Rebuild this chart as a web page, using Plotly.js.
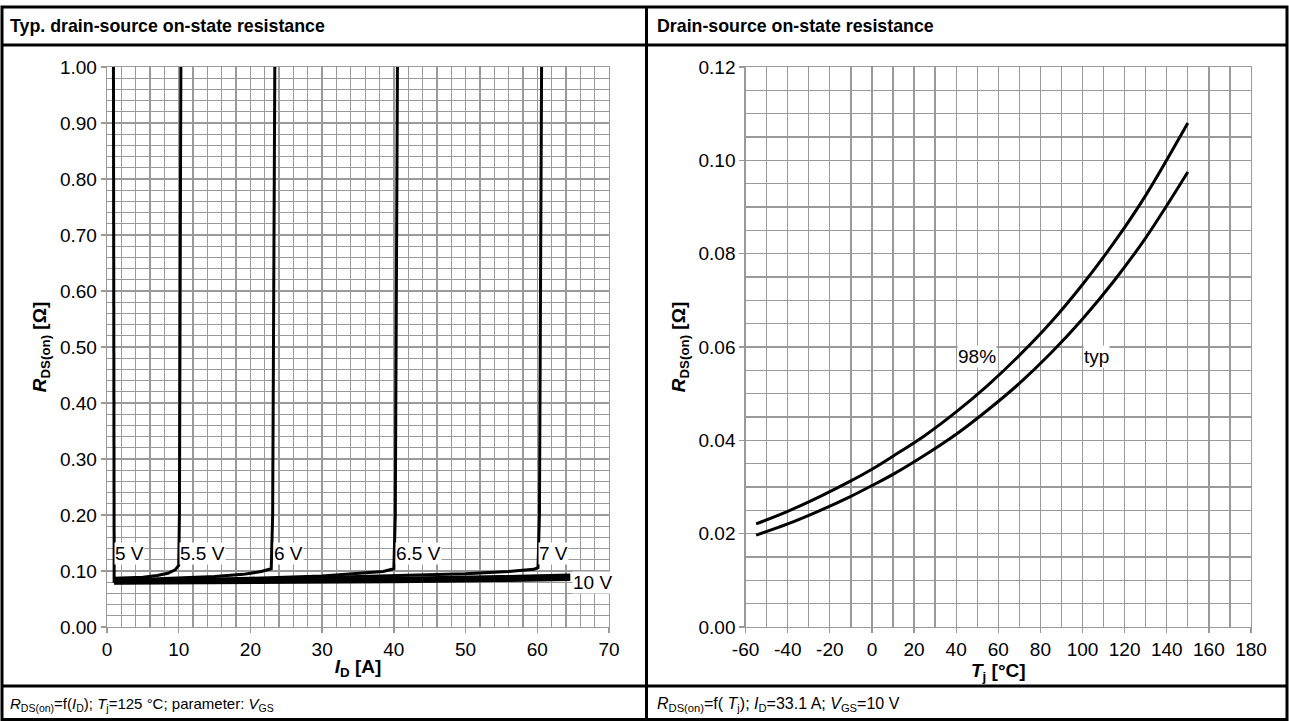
<!DOCTYPE html>
<html>
<head>
<meta charset="utf-8">
<script src="https://cdn.plot.ly/plotly-3.0.1.min.js"></script>
<style>html,body{margin:0;padding:0;background:#fff;}#chart{width:1289px;height:721px;}</style>
</head>
<body>
<div id="chart"></div>
<script>
// ---------- Left chart: RDS(on) = f(ID), parameter VGS ----------
const vgsNames = ['5 V', '5.5 V', '6 V', '6.5 V', '7 V', '8 V', '9 V', '10 V'];
const id_5V   = [1.0, 1.0, 1.0, 0.9];
const r_5V    = [0.079, 0.080, 0.15, 1.00];
const id_5V5  = [1.0, 3.0, 5.0, 7.0, 8.5, 9.5, 10.0, 10.1, 10.3];
const r_5V5   = [0.087, 0.088, 0.089, 0.092, 0.096, 0.102, 0.110, 0.20, 1.00];
const id_6V   = [1.0, 5.0, 10.0, 15.0, 19.0, 21.5, 22.9, 23.1, 23.4];
const r_6V    = [0.083, 0.085, 0.087, 0.090, 0.094, 0.099, 0.104, 0.20, 1.00];
const id_6V5  = [1.0, 10.0, 20.0, 30.0, 35.0, 38.5, 40.0, 40.2, 40.5];
const r_6V5   = [0.082, 0.084, 0.087, 0.091, 0.095, 0.099, 0.104, 0.20, 1.00];
const id_7V   = [1.0, 10.0, 20.0, 30.0, 40.0, 50.0, 56.0, 59.5, 60.1, 60.3, 60.6];
const r_7V    = [0.081, 0.082, 0.085, 0.088, 0.091, 0.095, 0.099, 0.103, 0.106, 0.20, 1.00];
const id_8V   = [1.0, 20.0, 40.0, 55.0, 64.6];
const r_8V    = [0.080, 0.083, 0.087, 0.090, 0.093];
const id_9V   = [1.0, 20.0, 40.0, 55.0, 64.6];
const r_9V    = [0.079, 0.081, 0.084, 0.087, 0.089];
const id_10V  = [1.0, 20.0, 40.0, 55.0, 64.6];
const r_10V   = [0.078, 0.079, 0.081, 0.083, 0.085];

// label anchor points (left edge of label) for the VGS curves
const vgsLabelText = ['5 V', '5.5 V', '6 V', '6.5 V', '7 V', '10 V'];
const vgsLabelId   = [1.0, 10.1, 23.2, 40.2, 60.1, 64.8];
const vgsLabelR    = [0.132, 0.132, 0.132, 0.132, 0.132, 0.080];

// ---------- Right chart: RDS(on) = f(Tj) ----------
const tj       = [-55, -40, -25, -10, 0, 10, 25, 40, 55, 70, 85, 100, 115, 130, 150];
const r_typ    = [0.0197, 0.0221, 0.0249, 0.0280, 0.0303, 0.0327, 0.0368, 0.0413, 0.0465, 0.0522, 0.0587, 0.0660, 0.0742, 0.0834, 0.0975];
const r_98     = [0.0221, 0.0248, 0.0279, 0.0313, 0.0338, 0.0366, 0.0410, 0.0461, 0.0518, 0.0582, 0.0653, 0.0734, 0.0824, 0.0925, 0.1080];
const tjLabelText = ['98%', 'typ'];
const tjLabelT    = [40.2, 100.3];
const tjLabelR    = [0.0579, 0.0579];

const tjTickVals = [-60, -40, -20, 0, 20, 40, 60, 80, 100, 120, 140, 160, 180];
const tjTickText = ['-60', '-40', '-20', '0', '20', '40', '60', '80', '100', '120', '140', '160', '180'];

// ---------- geometry helpers (pixels -> paper) ----------
const W = 1289, H = 721;
const px = x => x / W;
const py = y => 1 - y / H;

const leftSeries = [
  [id_5V, r_5V], [id_5V5, r_5V5], [id_6V, r_6V], [id_6V5, r_6V5],
  [id_7V, r_7V], [id_8V, r_8V], [id_9V, r_9V], [id_10V, r_10V]
];
const traces = leftSeries.map((s, i) => ({
  type: 'scatter', mode: 'lines', x: s[0], y: s[1], name: vgsNames[i],
  xaxis: 'x', yaxis: 'y', line: {color: '#000', width: 3}, hoverinfo: 'skip'
}));
traces.push({type: 'scatter', mode: 'lines', x: tj, y: r_98, name: '98%',
  xaxis: 'x2', yaxis: 'y2', line: {color: '#000', width: 3, shape: 'spline'}});
traces.push({type: 'scatter', mode: 'lines', x: tj, y: r_typ, name: 'typ',
  xaxis: 'x2', yaxis: 'y2', line: {color: '#000', width: 3, shape: 'spline'}});

const GRID = '#9a9a9a';
const FONT = 'Liberation Sans, Arial, Helvetica, sans-serif';
function axisBase() {
  return {
    showgrid: true, gridcolor: GRID, gridwidth: 1.3,
    showline: true, linecolor: GRID, linewidth: 1.3, mirror: true,
    ticks: 'outside', ticklen: 5, tickcolor: GRID, tickwidth: 1.3,
    zeroline: false, fixedrange: true,
    tickfont: {family: FONT, size: 19, color: '#000'}
  };
}

const yDom = [py(627), py(67)];
const layout = {
  width: W, height: H, margin: {l: 0, r: 0, t: 0, b: 0},
  paper_bgcolor: '#fff', plot_bgcolor: '#fff', showlegend: false,
  font: {family: FONT, size: 19, color: '#000'},
  xaxis: Object.assign(axisBase(), {
    domain: [px(107), px(609)], range: [0, 70], tickmode: 'linear', tick0: 0, dtick: 10,
    minor: {dtick: 2, showgrid: true, gridcolor: GRID, gridwidth: 1.3, ticks: ''},
    title: {text: '<b><i>I</i><sub>D</sub> [A]</b>', font: {family: FONT, size: 19}, standoff: 0}
  }),
  yaxis: Object.assign(axisBase(), {
    domain: yDom, range: [0, 1.0], tickmode: 'linear', tick0: 0, dtick: 0.1, tickformat: '.2f',
    minor: {dtick: 0.02, showgrid: true, gridcolor: GRID, gridwidth: 1.3, ticks: ''},
    title: {text: '<b><i>R</i><sub>DS(on)</sub> [Ω]</b>', font: {family: FONT, size: 19}, standoff: 8}
  }),
  xaxis2: Object.assign(axisBase(), {
    domain: [px(745.6), px(1251)], anchor: 'y2', range: [-60, 180],
    tickmode: 'array', tickvals: tjTickVals, ticktext: tjTickText,
    minor: {tick0: -60, dtick: 10, showgrid: true, gridcolor: GRID, gridwidth: 1.3, ticks: ''},
    title: {text: '<b><i>T</i><sub>j</sub> [°C]</b>', font: {family: FONT, size: 19}, standoff: 0}
  }),
  yaxis2: Object.assign(axisBase(), {
    domain: yDom, anchor: 'x2', range: [0, 0.12], tickmode: 'linear', tick0: 0, dtick: 0.02, tickformat: '.2f',
    minor: {dtick: 0.005, showgrid: true, gridcolor: GRID, gridwidth: 1.3, ticks: ''},
    title: {text: '<b><i>R</i><sub>DS(on)</sub> [Ω]</b>', font: {family: FONT, size: 19}, standoff: 8}
  }),
  shapes: [
    {type: 'rect', xref: 'paper', yref: 'paper', x0: px(2), x1: px(1287), y0: py(719.5), y1: py(7), line: {color: '#000', width: 3}},
    {type: 'line', xref: 'paper', yref: 'paper', x0: px(2), x1: px(1287), y0: py(45), y1: py(45), line: {color: '#000', width: 3}},
    {type: 'line', xref: 'paper', yref: 'paper', x0: px(2), x1: px(1287), y0: py(686), y1: py(686), line: {color: '#000', width: 3}},
    {type: 'line', xref: 'paper', yref: 'paper', x0: px(646.5), x1: px(646.5), y0: py(7), y1: py(719.5), line: {color: '#000', width: 3}}
  ],
  annotations: []
};

// panel titles
layout.annotations.push({xref: 'paper', yref: 'paper', x: px(8), y: py(26), xanchor: 'left', yanchor: 'middle',
  showarrow: false, text: '<b>Typ. drain-source on-state resistance</b>', font: {family: FONT, size: 17.8}});
layout.annotations.push({xref: 'paper', yref: 'paper', x: px(655), y: py(26), xanchor: 'left', yanchor: 'middle',
  showarrow: false, text: '<b>Drain-source on-state resistance</b>', font: {family: FONT, size: 17.8}});
// footers
layout.annotations.push({xref: 'paper', yref: 'paper', x: px(8), y: py(704), xanchor: 'left', yanchor: 'middle',
  showarrow: false, text: '<i>R</i><sub>DS(on)</sub>=f(<i>I</i><sub>D</sub>); <i>T</i><sub>j</sub>=125 °C; parameter: <i>V</i><sub>GS</sub>', font: {family: FONT, size: 15}});
layout.annotations.push({xref: 'paper', yref: 'paper', x: px(655), y: py(704), xanchor: 'left', yanchor: 'middle',
  showarrow: false, text: '<i>R</i><sub>DS(on)</sub>=f( <i>T</i><sub>j</sub>); <i>I</i><sub>D</sub>=33.1 A; <i>V</i><sub>GS</sub>=10 V', font: {family: FONT, size: 16}});
// curve labels
vgsLabelText.forEach((t, i) => layout.annotations.push({xref: 'x', yref: 'y', x: vgsLabelId[i], y: vgsLabelR[i],
  xanchor: 'left', yanchor: 'middle', showarrow: false, text: t, bgcolor: '#fff', borderpad: 0,
  font: {family: FONT, size: 19}}));
tjLabelText.forEach((t, i) => layout.annotations.push({xref: 'x2', yref: 'y2', x: tjLabelT[i], y: tjLabelR[i],
  xanchor: 'left', yanchor: 'middle', showarrow: false, text: t, bgcolor: '#fff', borderpad: 0,
  font: {family: FONT, size: 19}}));

Plotly.newPlot('chart', traces, layout, {staticPlot: true, displayModeBar: false});
</script>
</body>
</html>
